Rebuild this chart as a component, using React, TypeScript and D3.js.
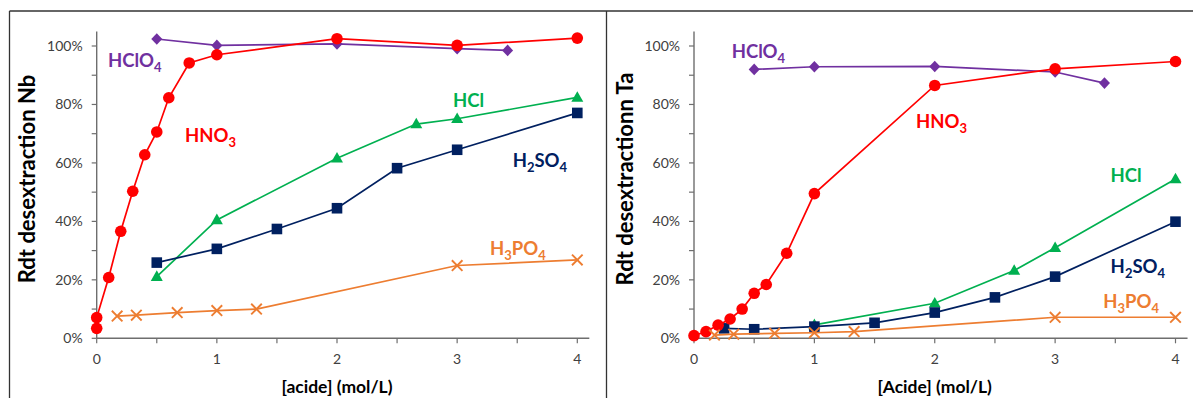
import React from "react";
import * as d3 from "d3";

// ---------- data ----------
const nbHNO3X = [0, 0, 0.1, 0.2, 0.3, 0.4, 0.5, 0.6, 0.77, 1, 2, 3, 4];
const nbHNO3Y = [3.4, 7.1, 20.8, 36.6, 50.3, 62.8, 70.6, 82.3, 94.2, 97.0, 102.5, 100.2, 102.7];
const nbHClO4X = [0.5, 1, 2, 3, 3.42];
const nbHClO4Y = [102.4, 100.2, 100.7, 99.1, 98.5];
const nbHClX = [0.5, 1, 2, 2.66, 3, 4];
const nbHClY = [21.1, 40.5, 61.6, 73.3, 75.1, 82.4];
const nbH2SO4X = [0.5, 1, 1.5, 2, 2.5, 3, 4];
const nbH2SO4Y = [25.9, 30.6, 37.4, 44.5, 58.2, 64.5, 77.1];
const nbH3PO4X = [0.17, 0.33, 0.67, 1, 1.33, 3, 4];
const nbH3PO4Y = [7.6, 7.9, 8.8, 9.5, 10.0, 24.9, 26.8];

const taHNO3X = [0, 0.1, 0.2, 0.3, 0.4, 0.5, 0.6, 0.77, 1, 2, 3, 4];
const taHNO3Y = [0.9, 2.3, 4.5, 6.6, 10.0, 15.4, 18.4, 29.1, 49.5, 86.5, 92.2, 94.7];
const taHClO4X = [0.5, 1, 2, 3, 3.41];
const taHClO4Y = [92.0, 92.9, 93.0, 91.1, 87.3];
const taHClX = [1, 2, 2.66, 3, 4];
const taHClY = [4.6, 12.0, 23.2, 31.0, 54.5];
const taH2SO4X = [0.25, 0.5, 1, 1.5, 2, 2.5, 3, 4];
const taH2SO4Y = [3.4, 3.1, 4.0, 5.3, 8.8, 14.0, 21.1, 39.9];
const taH3PO4X = [0.17, 0.33, 0.67, 1, 1.33, 3, 4];
const taH3PO4Y = [1.1, 1.4, 1.7, 1.9, 2.3, 7.2, 7.2];

const yTicks = [0, 10, 20, 30, 40, 50, 60, 70, 80, 90, 100];
const yLabels = [0, 20, 40, 60, 80, 100];
const xTicks = [0, 0.5, 1, 1.5, 2, 2.5, 3, 3.5, 4];
const xLabels = [0, 1, 2, 3, 4];

// label anchors in data coordinates: [name, text, subscripts, x, y]
const nbLabels: [string, string, string, number, number][] = [
  ["HClO4", "HClO", "4", 0.094, 92.9],
  ["HNO3", "HNO", "3", 0.735, 67.2],
  ["HCl", "HCl", "", 2.966, 79.2],
  ["H2SO4", "H|SO", "2|4", 3.462, 58.7],
  ["H3PO4", "H|PO", "3|4", 3.273, 28.5],
];
const taLabels: [string, string, string, number, number][] = [
  ["HClO4", "HClO", "4", 0.313, 96.0],
  ["HNO3", "HNO", "3", 1.844, 72.0],
  ["HCl", "HCl", "", 3.461, 53.5],
  ["H2SO4", "H|SO", "2|4", 3.461, 22.4],
  ["H3PO4", "H|PO", "3|4", 3.40, 10.4],
];

const COLORS: Record<string, string> = {
  HNO3: "#FF0000",
  HClO4: "#7030A0",
  HCl: "#00B050",
  H2SO4: "#002060",
  H3PO4: "#ED7D31",
};
const MARKERS: Record<string, string> = {
  HNO3: "circle",
  HClO4: "diamond",
  HCl: "triangle",
  H2SO4: "square",
  H3PO4: "x",
};

type Series = { name: string; xs: number[]; ys: number[] };

const FONT = "Lato, 'Open Sans', sans-serif";

function Marker({ kind, cx, cy, color }: { kind: string; cx: number; cy: number; color: string }) {
  if (kind === "circle") return <circle cx={cx} cy={cy} r={5.8} fill={color} />;
  if (kind === "square") return <rect x={cx - 5.3} y={cy - 5.3} width={10.6} height={10.6} fill={color} />;
  if (kind === "diamond")
    return <path d={`M${cx},${cy - 5.8}L${cx + 5.5},${cy}L${cx},${cy + 5.8}L${cx - 5.5},${cy}Z`} fill={color} />;
  if (kind === "triangle")
    return <path d={`M${cx},${cy - 6.3}L${cx + 6},${cy + 4.3}L${cx - 6},${cy + 4.3}Z`} fill={color} />;
  return (
    <path
      d={`M${cx - 5.3},${cy - 5.3}L${cx + 5.3},${cy + 5.3}M${cx - 5.3},${cy + 5.3}L${cx + 5.3},${cy - 5.3}`}
      stroke={color}
      strokeWidth={1.9}
      fill="none"
    />
  );
}

function ChemLabel({ main, sub, x, y, color }: { main: string; sub: string; x: number; y: number; color: string }) {
  const parts = main.split("|");
  const subs = sub.split("|");
  const nodes: React.ReactNode[] = [];
  parts.forEach((p, i) => {
    nodes.push(
      <tspan key={"m" + i} dy={i === 0 ? 0 : -5}>
        {p}
      </tspan>
    );
    if (subs[i]) {
      nodes.push(
        <tspan key={"s" + i} fontSize={13} dy={5}>
          {subs[i]}
        </tspan>
      );
    }
  });
  return (
    <text x={x} y={y} fill={color} fontFamily={FONT} fontWeight={700} fontSize={18.5}>
      {nodes}
    </text>
  );
}

function Panel({
  x0,
  x4,
  series,
  labels,
  yTitle,
  xTitle,
  titleX,
}: {
  x0: number;
  x4: number;
  series: Series[];
  labels: [string, string, string, number, number][];
  yTitle: string;
  xTitle: string;
  titleX: number;
}) {
  const x = d3.scaleLinear().domain([0, 4]).range([x0, x4]);
  const y = d3.scaleLinear().domain([0, 100]).range([338.3, 46]);
  const line = d3
    .line<[number, number]>()
    .x((d) => x(d[0]))
    .y((d) => y(d[1]));
  const axisColor = "#6e6e6e";
  const tickColor = "#404040";
  return (
    <g>
      {/* y axis */}
      <line x1={x(0)} x2={x(0)} y1={y(0)} y2={y(105)} stroke={axisColor} strokeWidth={1.4} />
      {yTicks.map((t) => (
        <line key={"yt" + t} x1={x(0) - 5} x2={x(0)} y1={y(t)} y2={y(t)} stroke={axisColor} strokeWidth={1.2} />
      ))}
      {yLabels.map((t) => (
        <text
          key={"yl" + t}
          x={x(0) - 14}
          y={y(t)}
          dy="0.35em"
          textAnchor="end"
          fontFamily={FONT}
          fontSize={14}
          fill={tickColor}
        >
          {d3.format(".0%")(t / 100)}
        </text>
      ))}
      {/* x axis */}
      <line x1={x(0)} x2={x(4.1)} y1={y(0)} y2={y(0)} stroke={axisColor} strokeWidth={1.4} />
      {xTicks.map((t) => (
        <line key={"xt" + t} x1={x(t)} x2={x(t)} y1={y(0)} y2={y(0) + 5} stroke={axisColor} strokeWidth={1.2} />
      ))}
      {xLabels.map((t) => (
        <text
          key={"xl" + t}
          x={x(t)}
          y={364}
          textAnchor="middle"
          fontFamily={FONT}
          fontSize={14}
          fill={tickColor}
        >
          {t}
        </text>
      ))}
      {/* titles */}
      <text
        x={(x(0) + x(4)) / 2}
        y={393}
        textAnchor="middle"
        fontFamily={FONT}
        fontWeight={700}
        fontSize={17.5}
        fill="#000"
      >
        {xTitle}
      </text>
      <text
        transform={`translate(${titleX},${179}) rotate(-90)`}
        textAnchor="middle"
        fontFamily={FONT}
        fontWeight={700}
        fontSize={22}
        fill="#000"
      >
        {yTitle}
      </text>
      {/* series */}
      {series.map((s) => {
        const pts: [number, number][] = s.xs.map((v, i) => [v, s.ys[i]]);
        const c = COLORS[s.name];
        return (
          <g key={s.name}>
            <path d={line(pts) || ""} fill="none" stroke={c} strokeWidth={1.7} />
            {pts.map((p, i) => (
              <Marker key={i} kind={MARKERS[s.name]} cx={x(p[0])} cy={y(p[1])} color={c} />
            ))}
          </g>
        );
      })}
      {labels.map((l) => (
        <ChemLabel key={l[0]} main={l[1]} sub={l[2]} x={x(l[3])} y={y(l[4])} color={COLORS[l[0]]} />
      ))}
    </g>
  );
}

export default function App() {
  const nbSeries: Series[] = [
    { name: "HCl", xs: nbHClX, ys: nbHClY },
    { name: "H2SO4", xs: nbH2SO4X, ys: nbH2SO4Y },
    { name: "HClO4", xs: nbHClO4X, ys: nbHClO4Y },
    { name: "HNO3", xs: nbHNO3X, ys: nbHNO3Y },
    { name: "H3PO4", xs: nbH3PO4X, ys: nbH3PO4Y },
  ];
  const taSeries: Series[] = [
    { name: "HCl", xs: taHClX, ys: taHClY },
    { name: "H2SO4", xs: taH2SO4X, ys: taH2SO4Y },
    { name: "HClO4", xs: taHClO4X, ys: taHClO4Y },
    { name: "HNO3", xs: taHNO3X, ys: taHNO3Y },
    { name: "H3PO4", xs: taH3PO4X, ys: taH3PO4Y },
  ];
  return (
    <svg
      width={1193}
      height={398}
      style={{ position: "absolute", left: 0, top: 0, background: "#fff" }}
    >
      <rect x={0} y={0} width={1193} height={398} fill="#fff" />
      {/* frame */}
      <line x1={9.5} x2={1193} y1={11} y2={11} stroke="#333" strokeWidth={1.3} />
      <line x1={9.5} x2={9.5} y1={11} y2={398} stroke="#333" strokeWidth={1.3} />
      <line x1={606.5} x2={606.5} y1={11} y2={398} stroke="#333" strokeWidth={1.3} />
      <Panel
        x0={96.7}
        x4={577.3}
        series={nbSeries}
        labels={nbLabels}
        yTitle="Rdt desextraction Nb"
        xTitle="[acide] (mol/L)"
        titleX={35}
      />
      <Panel
        x0={694}
        x4={1175.5}
        series={taSeries}
        labels={taLabels}
        yTitle="Rdt desextractionn Ta"
        xTitle="[Acide] (mol/L)"
        titleX={633}
      />
    </svg>
  );
}
